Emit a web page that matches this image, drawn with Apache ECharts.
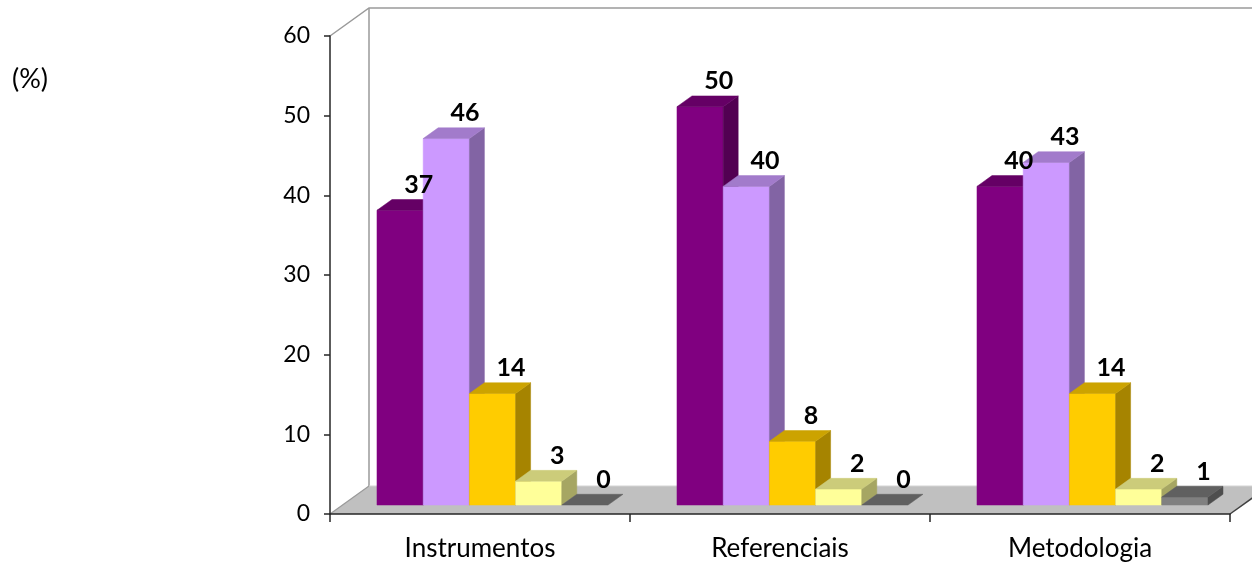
<!DOCTYPE html>
<html>
<head>
<meta charset="utf-8">
<script src="https://cdn.jsdelivr.net/npm/echarts@6/dist/echarts.min.js"></script>
<style>
  html, body { margin: 0; padding: 0; background: #ffffff; }
  #chart { width: 1252px; height: 565px; }
</style>
</head>
<body>
<div id="chart"></div>
<script>
// Categories and series values (%)
const categories = ['Instrumentos', 'Referenciais', 'Metodologia'];
const valuesPurple = [37, 50, 40];
const valuesLavender = [46, 40, 43];
const valuesGold = [14, 8, 14];
const valuesPaleYellow = [3, 2, 2];
const valuesGray = [0, 0, 1];
const yMin = 0;
const yMax = 60;
const yStep = 10;

const seriesValues = [valuesPurple, valuesLavender, valuesGold, valuesPaleYellow, valuesGray];
// front / top / side face colours for each series
const faceColors = [
  ['#800080', '#650065', '#520052'],
  ['#cc99ff', '#a27bcb', '#8264a4'],
  ['#ffcc00', '#cca300', '#a68400'],
  ['#ffff99', '#cccc7a', '#a6a663'],
  ['#808080', '#606060', '#4e4e4e']
];

const FONT = 'Lato, "Open Sans", sans-serif';

// 3D geometry, expressed as fractions of the category band width
const FLOOR_DX = 0.13, FLOOR_DY = -0.0933;   // full depth of the floor
const BAR_SHIFT = 0.32;                      // bars sit this far back on the floor
const BAR_DEPTH = 0.385;                     // bar thickness relative to floor depth
const BAR_W = 0.154;                         // bar width relative to band width

function barRenderer(si) {
  return function (params, api) {
    const cat = api.value(0);
    const v = api.value(1);
    const bw = api.size([1, 0])[0];
    const top = api.coord([cat, v]);
    const base = api.coord([cat, 0]);
    const fdx = bw * FLOOR_DX, fdy = bw * FLOOR_DY;
    const sx = fdx * BAR_SHIFT, sy = fdy * BAR_SHIFT;
    const dx = fdx * BAR_DEPTH, dy = fdy * BAR_DEPTH;
    const w = bw * BAR_W;
    const n = seriesValues.length;
    const x0 = top[0] - (n / 2) * w + sx + si * w;
    const x1 = x0 + w;
    const yT = top[1] + sy;
    const yB = base[1] + sy;
    const c = faceColors[si];
    const children = [];
    if (yB - yT > 0.5) {
      children.push({
        type: 'rect',
        shape: { x: x0, y: yT, width: w, height: yB - yT },
        style: { fill: c[0], stroke: c[0], lineWidth: 0.5 }
      });
      children.push({
        type: 'polygon',
        shape: { points: [[x1, yT], [x1 + dx, yT + dy], [x1 + dx, yB + dy], [x1, yB]] },
        style: { fill: c[2], stroke: c[2], lineWidth: 0.5 }
      });
    }
    children.push({
      type: 'polygon',
      shape: { points: [[x0, yT], [x1, yT], [x1 + dx, yT + dy], [x0 + dx, yT + dy]] },
      style: { fill: c[1], stroke: c[1], lineWidth: 0.5 }
    });
    return { type: 'group', children: children };
  };
}

function labelRenderer(si) {
  return function (params, api) {
    const cat = api.value(0);
    const v = api.value(1);
    const bw = api.size([1, 0])[0];
    const top = api.coord([cat, v]);
    const fdx = bw * FLOOR_DX, fdy = bw * FLOOR_DY;
    const w = bw * BAR_W;
    const n = seriesValues.length;
    const x0 = top[0] - (n / 2) * w + fdx * BAR_SHIFT + si * w;
    const cx = x0 + w / 2 + bw * 0.062;
    const cy = top[1] + fdy * BAR_SHIFT - bw * 0.085;
    return {
      type: 'text',
      style: {
        x: cx, y: cy,
        text: String(v),
        fill: '#000000',
        font: 'bold 25px ' + FONT,
        align: 'center',
        verticalAlign: 'middle'
      }
    };
  };
}

function wallRenderer(params, api) {
  const bw = api.size([1, 0])[0];
  const left = api.coord([0, yMin])[0] - bw / 2;
  const right = api.coord([categories.length - 1, yMin])[0] + bw / 2;
  const y0 = api.coord([0, yMin])[1];
  const yTop = api.coord([0, yMax])[1];
  const dx = bw * FLOOR_DX, dy = bw * FLOOR_DY;
  const wallLine = { stroke: '#9a9a9a', lineWidth: 1.5, fill: null };
  return {
    type: 'group',
    children: [
      {
        type: 'polygon',
        shape: { points: [[left, y0], [right, y0], [right + dx, y0 + dy], [left + dx, y0 + dy]] },
        style: { fill: '#c0c0c0', stroke: null }
      },
      {
        type: 'polyline',
        shape: { points: [[left, yTop], [left + dx, yTop + dy], [right + dx + 40, yTop + dy]] },
        style: wallLine
      },
      {
        type: 'line',
        shape: { x1: left + dx, y1: yTop + dy, x2: left + dx, y2: y0 + dy },
        style: wallLine
      },
      {
        type: 'line',
        shape: { x1: left + dx, y1: y0 + dy, x2: right + dx, y2: y0 + dy },
        style: { stroke: '#d4d4d4', lineWidth: 1 }
      },
      {
        type: 'line',
        shape: { x1: left, y1: y0, x2: left + dx, y2: y0 + dy },
        style: { stroke: '#9a9a9a', lineWidth: 1.2 }
      },
      {
        type: 'line',
        shape: { x1: right, y1: y0, x2: right + dx, y2: y0 + dy },
        style: { stroke: '#404040', lineWidth: 1.5 }
      }
    ]
  };
}

const series = [
  {
    type: 'custom',
    name: 'walls',
    z: -1,
    silent: true,
    renderItem: wallRenderer,
    data: [[0, 0]]
  }
];
seriesValues.forEach(function (vals, si) {
  series.push({
    type: 'custom',
    z: 2,
    renderItem: barRenderer(si),
    data: vals.map(function (v, i) { return [i, v]; })
  });
});
seriesValues.forEach(function (vals, si) {
  series.push({
    type: 'custom',
    z: 10,
    silent: true,
    renderItem: labelRenderer(si),
    data: vals.map(function (v, i) { return [i, v]; })
  });
});

const chart = echarts.init(document.getElementById('chart'), null, { renderer: 'canvas' });
chart.setOption({
  animation: false,
  backgroundColor: '#ffffff',
  grid: { left: 330, top: 36, width: 900, height: 478, containLabel: false },
  graphic: [
    {
      type: 'text',
      left: 12,
      top: 66,
      style: { text: '(%)', font: '27px ' + FONT, fill: '#000000' }
    }
  ],
  xAxis: {
    type: 'category',
    data: categories,
    boundaryGap: true,
    axisLine: { show: true, lineStyle: { color: '#262626', width: 1.5 } },
    axisTick: { show: true, alignWithLabel: false, length: 8, lineStyle: { color: '#262626', width: 1.5 } },
    axisLabel: { margin: 22, fontSize: 26, fontFamily: FONT, color: '#000000' },
    splitLine: { show: false }
  },
  yAxis: {
    type: 'value',
    min: yMin,
    max: yMax,
    interval: yStep,
    axisLine: { show: true, lineStyle: { color: '#262626', width: 1.5 } },
    axisTick: { show: true, length: 6, lineStyle: { color: '#262626', width: 1.5 } },
    axisLabel: { margin: 20, fontSize: 23, fontFamily: FONT, color: '#000000' },
    splitLine: { show: false }
  },
  series: series
});
</script>
</body>
</html>
